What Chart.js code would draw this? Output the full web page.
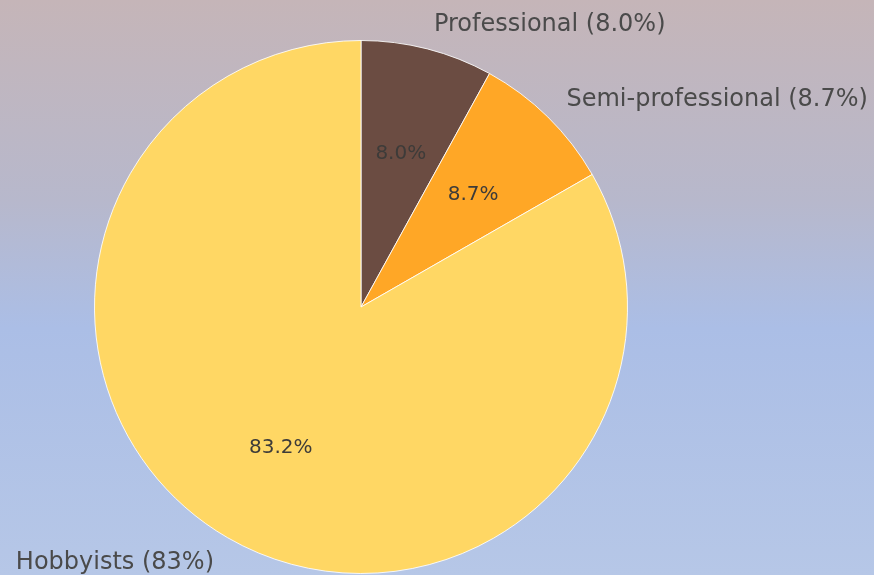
<!DOCTYPE html>
<html>
<head>
<meta charset="utf-8">
<script src="https://cdn.jsdelivr.net/npm/chart.js"></script>
<style>
  html, body { margin: 0; padding: 0; }
  body {
    width: 874px; height: 575px; overflow: hidden;
    background: linear-gradient(to bottom, #c5b5b8 0%, #b7b8cc 35%, #abbee6 57%, #b6c7e7 100%);
  }
  #wrap { position: relative; width: 874px; height: 575px; }
  canvas { display: block; }
</style>
</head>
<body>
<div id="wrap"><canvas id="pie" width="874" height="575"></canvas></div>
<script>
// Data
const categories = ['Professional', 'Semi-professional', 'Hobbyists'];
const shares = [8.0, 8.7, 83.2];
const outerLabels = ['Professional (8.0%)', 'Semi-professional (8.7%)', 'Hobbyists (83%)'];
const sliceColors = ['#6b4c42', '#ffa726', '#ffd764'];

// draws inner % labels and outer category labels from each arc's geometry
const sliceLabels = {
    id: 'sliceLabels',
    afterDatasetsDraw(chart) {
        const ctx = chart.ctx;
        const arcs = chart.getDatasetMeta(0).data;
        ctx.save();
        ctx.textBaseline = 'middle';
        arcs.forEach((arc, i) => {
            const p = arc.getProps(['x', 'y', 'startAngle', 'endAngle', 'outerRadius'], true);
            const mid = (p.startAngle + p.endAngle) / 2;
            const cx = Math.cos(mid), cy = Math.sin(mid);

            ctx.font = '20px "DejaVu Sans"';
            ctx.fillStyle = '#3d3b39';
            ctx.textAlign = 'center';
            ctx.fillText(shares[i].toFixed(1) + '%', p.x + cx * p.outerRadius * 0.6, p.y + cy * p.outerRadius * 0.6 + 2);

            ctx.font = '24px "DejaVu Sans"';
            ctx.fillStyle = '#4a4a4a';
            ctx.textAlign = cx >= 0 ? 'left' : 'right';
            ctx.fillText(outerLabels[i], p.x + cx * p.outerRadius * 1.1, p.y + cy * p.outerRadius * 1.1 + 2);
        });
        ctx.restore();
    }
};

new Chart(document.getElementById('pie'), {
    type: 'pie',
    data: {
        labels: categories,
        datasets: [{
            data: shares,
            backgroundColor: sliceColors,
            borderColor: 'rgba(255,255,255,0.85)',
            borderWidth: 1
        }]
    },
    options: {
        responsive: false,
        animation: false,
        devicePixelRatio: 1,
        layout: { padding: { left: 94, right: 246, top: 40, bottom: 1 } },
        plugins: {
            legend: { display: false },
            tooltip: { enabled: false }
        }
    },
    plugins: [sliceLabels]
});
</script>
</body>
</html>
